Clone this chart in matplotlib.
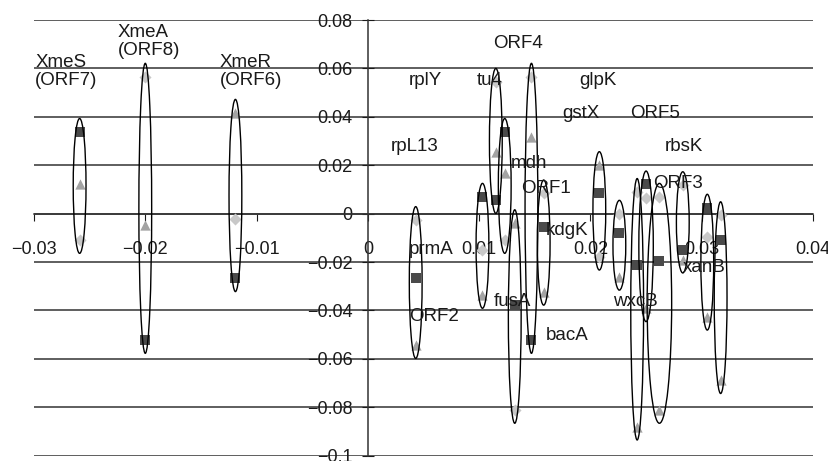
import matplotlib.pyplot as plt
from matplotlib.patches import Ellipse

plt.rcParams['font.family'] = ['Liberation Sans', 'DejaVu Sans']

# one entry per gene (x position), three conditions per gene
gene_x = [-0.0259, -0.0200, -0.0119, 0.0043, 0.0103, 0.0115, 0.0123, 0.0132, 0.0147,
          0.0158, 0.0208, 0.0226, 0.0242, 0.0250, 0.0262, 0.0283, 0.0305, 0.0317]
diamond_y = [-0.0109, 0.0566, -0.0024, -0.0026, -0.0150, 0.0545, -0.0109, -0.0811, 0.0566,
             0.0084, -0.0178, 0.0000, 0.0090, 0.0064, 0.0070, 0.0118, -0.0095, -0.0006]
square_y = [0.0338, -0.0522, -0.0267, -0.0267, 0.0070, 0.0056, 0.0338, -0.0378, -0.0522,
            -0.0054, 0.0084, -0.0079, -0.0212, 0.0121, -0.0196, -0.0150, 0.0025, -0.0109]
triangle_y = [0.0122, -0.0047, 0.0417, -0.0543, -0.0336, 0.0256, 0.0167, -0.0039, 0.0318,
              -0.0323, 0.0201, -0.0261, -0.0880, -0.0391, -0.0811, -0.0190, -0.0426, -0.0688]

label_text = ['XmeS\n(ORF7)', 'XmeA\n(ORF8)', 'XmeR\n(ORF6)', 'rplY', 'tu4', 'ORF4', 'glpK',
              'gstX', 'ORF5', 'rpL13', 'rbsK', 'mdh', 'ORF1', 'ORF3', 'kdgK', 'prmA',
              'fusA', 'wxcB', 'xanB', 'ORF2', 'bacA']
label_x = [-0.0299, -0.0225, -0.0133, 0.0037, 0.0098, 0.0113, 0.0190, 0.0175, 0.0236,
           0.0021, 0.0267, 0.0128, 0.0138, 0.0256, 0.0160, 0.0037, 0.0113, 0.0220,
           0.0283, 0.0037, 0.0160]
label_y = [0.0586, 0.0712, 0.0586, 0.0552, 0.0552, 0.0704, 0.0552, 0.0414, 0.0414,
           0.0276, 0.0276, 0.0208, 0.0105, 0.0125, -0.0068, -0.0150, -0.0364, -0.0364,
           -0.0222, -0.0426, -0.0502]

fig = plt.figure(figsize=(8.29, 4.61), dpi=100, facecolor='w')
ax = fig.add_axes([0.041, 0.0115, 0.9397, 0.9451])
ax.set_xlim(-0.03, 0.04)
ax.set_ylim(-0.1, 0.08)

ax.set_yticks([i * 0.02 for i in range(-5, 5)])
ax.set_yticklabels(['\u22120.1', '\u22120.08', '\u22120.06', '\u22120.04', '\u22120.02',
                    '0', '0.02', '0.04', '0.06', '0.08'])
ax.set_xticks([-0.03, -0.02, -0.01, 0, 0.01, 0.02, 0.03, 0.04])
ax.set_xticklabels(['\u22120.03', '\u22120.02', '\u22120.01', '0', '0.01', '0.02', '0.03', '0.04'])
ax.yaxis.grid(True, color='#333333', lw=1.1)
ax.set_axisbelow(True)

for s in ['top', 'right']:
    ax.spines[s].set_visible(False)
ax.spines['left'].set_position(('data', 0))
ax.spines['bottom'].set_position(('data', 0))
for s in ['left', 'bottom']:
    ax.spines[s].set_color('#333333')
    ax.spines[s].set_linewidth(1.1)
ax.tick_params(axis='x', direction='out', length=5, pad=15, labelsize=13, colors='#1a1a1a')
ax.tick_params(axis='y', direction='inout', length=8, pad=7, labelsize=13, colors='#1a1a1a')

ax.scatter(gene_x, diamond_y, marker='D', s=38, color='#c8c8c8', zorder=3, linewidths=0)
ax.scatter(gene_x, square_y, marker='s', s=50, color='#4a4a4a', zorder=3, linewidths=0)
ax.scatter(gene_x, triangle_y, marker='^', s=55, color='#a3a3a3', zorder=3, linewidths=0)

pad = 0.0055
widths = {13: 0.0013, 14: 0.0022}
for i, x in enumerate(gene_x):
    vals = [diamond_y[i], square_y[i], triangle_y[i]]
    top = max(vals) + pad
    bot = min(vals) - pad
    e = Ellipse((x, (top + bot) / 2), widths.get(i, 0.00115), top - bot,
                fill=False, edgecolor='black', lw=1.0, zorder=4)
    ax.add_patch(e)

for t, x, y in zip(label_text, label_x, label_y):
    ax.text(x, y, t, ha='left', va='center', fontsize=13.5, color='#1a1a1a',
            linespacing=1.05, zorder=5)

plt.savefig('out.png', dpi=100)
